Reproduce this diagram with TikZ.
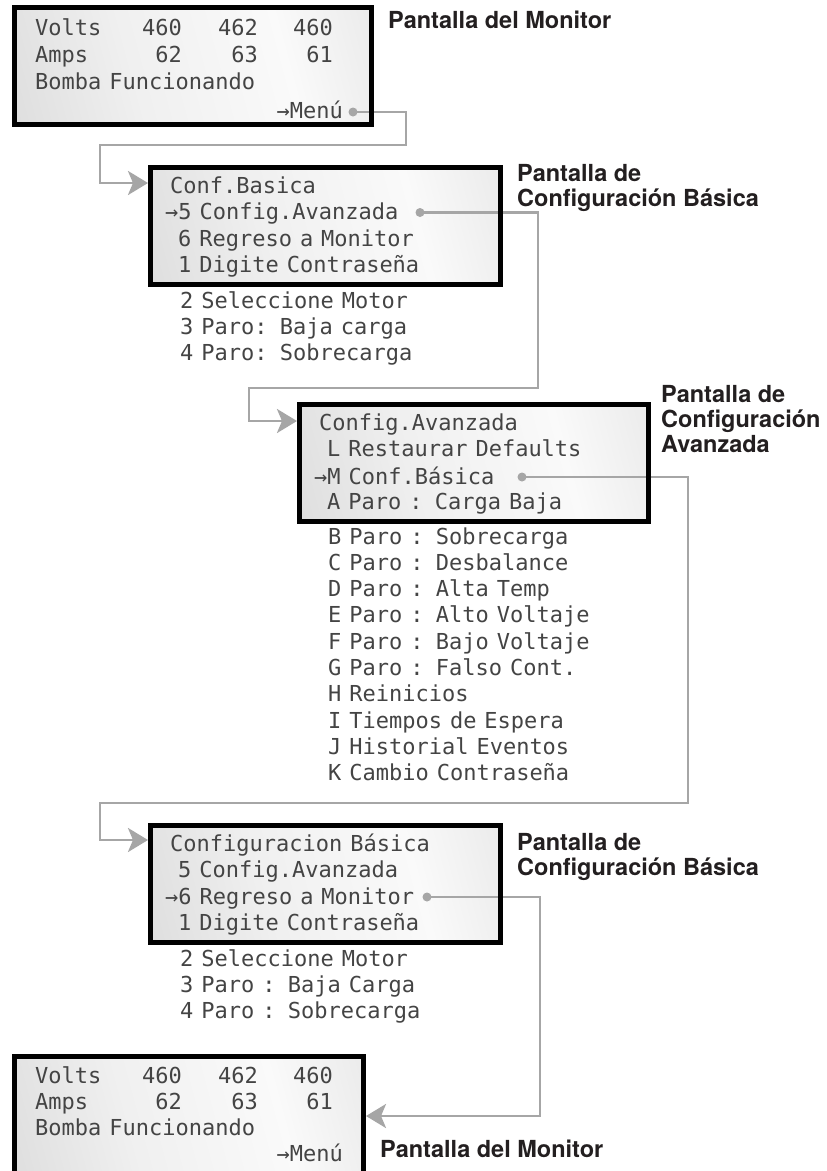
\documentclass[tikz,border=0pt]{standalone}
\usepackage{fontspec}
\newfontfamily\lcdfont[WordSpace=0.6]{DejaVu Sans Mono}
\newfontfamily\lblfont{TeX Gyre Heros}
\usetikzlibrary{arrows.meta}
\definecolor{lcdtext}{HTML}{444444}
\definecolor{connc}{HTML}{A6A6A6}
\definecolor{lbltext}{HTML}{231F20}
\pgfdeclarehorizontalshading{lcdshade}{100bp}{color(0bp)=(black!19); color(40bp)=(black!6); color(65bp)=(black!2); color(100bp)=(black!15)}
\tikzset{
  screen/.style={shading=lcdshade, shading angle=15, anchor=north west, inner sep=0pt, outer sep=2.5pt},
  frame/.style={draw=black, line width=5pt},
  lcd/.style={font=\lcdfont\fontsize{22}{22}\selectfont, text=lcdtext, inner sep=0pt, anchor=base west},
  lcdr/.style={lcd, anchor=base east},
  lbl/.style={font=\lblfont\bfseries\fontsize{23.5}{25}\selectfont, text=lbltext, inner sep=0pt, anchor=base west},
  conn/.style={draw=connc, line width=2.8pt},
  connarrow/.style={conn, -{Stealth[length=20pt, width=24pt, inset=5pt]}},
  knob/.style={fill=connc}
}
\begin{document}
\begin{tikzpicture}[x=1pt,y=-1pt]
\clip (0,0) rectangle (827,1171);
\fill[white] (0,0) rectangle (827,1171);

% screens (fill)
\node[screen, minimum width=357pt, minimum height=117pt] (b1) at (12,5) {};
\node[screen, minimum width=350pt, minimum height=117pt] (b2) at (148,165) {};
\node[screen, minimum width=349pt, minimum height=117pt] (b3) at (297,402) {};
\node[screen, minimum width=350pt, minimum height=117pt] (b4) at (148,823) {};
\node[screen, minimum width=349pt, minimum height=125pt] (b5) at (12,1054) {};

% connector anchors
\coordinate (d1) at (353,112);
\coordinate (d2) at (420,212.5);
\coordinate (d3) at (522,477);
\coordinate (d4) at (427,897);
\coordinate (e1) at (100,183);
\coordinate (e2) at (249,421);
\coordinate (e3) at (100,840);
\coordinate (e4) at (540,1116);

% connectors
\draw[connarrow] (d1) -| (406,145) -| (e1) -- (e1 -| b2.west);
\draw[connarrow] (d2) -| (538,388) -| (e2) -- (e2 -| b3.west);
\draw[connarrow] (d3) -| (688,803) -| (e3) -- (e3 -| b4.west);
\draw[connarrow] (d4) -| (e4) -- (e4 -| b5.east);

% frames
\foreach \b in {b1,b2,b3,b4,b5}{
  \draw[frame] ([shift={(2.5,2.5)}]\b.north west) rectangle ([shift={(-2.5,-2.5)}]\b.south east);
}

% dots
\foreach \d in {d1,d2,d3,d4}{ \fill[knob] (\d) circle (4.5pt); }

% screen 1
\node[lcd] (t1a) at (35,35) {Volts};
\node[lcdr] (t1b) at (182,35) {460};
\node[lcdr] (t1c) at (258,35) {462};
\node[lcdr] (t1d) at (333,35) {460};
\node[lcd] (t1e) at (35,62) {Amps};
\node[lcdr] (t1f) at (182,62) {62};
\node[lcdr] (t1g) at (258,62) {63};
\node[lcdr] (t1h) at (333,62) {61};
\node[lcd] (t1i) at (35,89) {Bomba Funcionando};
\node[lcdr] (t1j) at (343,118) {→Menú};

% screen 2
\node[lcd] (t2a) at (170,193) {Conf.Basica};
\node[lcd] (t2b) at (165,219.5) {→5 Config.Avanzada};
\node[lcd] (t2c) at (178,246) {6 Regreso a Monitor};
\node[lcd] (t2d) at (178,272) {1 Digite Contraseña};
\node[lcd] (t2e) at (180,308) {2 Seleccione Motor};
\node[lcd] (t2f) at (180,334) {3 Paro: Baja carga};
\node[lcd] (t2g) at (180,360) {4 Paro: Sobrecarga};

% screen 3
\node[lcd] (t3a) at (319,430) {Config.Avanzada};
\node[lcd] (t3b) at (327,456) {L Restaurar Defaults};
\node[lcd] (t3c) at (314,484) {→M Conf.Básica};
\node[lcd] (t3d) at (327,509) {A Paro : Carga Baja};
\node[lcd] (t3e) at (328,544) {B Paro : Sobrecarga};
\node[lcd] (t3f) at (328,570.3) {C Paro : Desbalance};
\node[lcd] (t3g) at (328,596.6) {D Paro : Alta Temp};
\node[lcd] (t3h) at (328,622.9) {E Paro : Alto Voltaje};
\node[lcd] (t3i) at (328,649.2) {F Paro : Bajo Voltaje};
\node[lcd] (t3j) at (328,675.5) {G Paro : Falso Cont.};
\node[lcd] (t3k) at (328,701.8) {H Reinicios};
\node[lcd] (t3l) at (328,728.1) {I Tiempos de Espera};
\node[lcd] (t3m) at (328,754.4) {J Historial Eventos};
\node[lcd] (t3n) at (328,780.7) {K Cambio Contraseña};

% screen 4
\node[lcd] (t4a) at (170,851) {Configuracion Básica};
\node[lcd] (t4b) at (178,877.5) {5 Config.Avanzada};
\node[lcd] (t4c) at (165,904) {→6 Regreso a Monitor};
\node[lcd] (t4d) at (178,930) {1 Digite Contraseña};
\node[lcd] (t4e) at (180,966) {2 Seleccione Motor};
\node[lcd] (t4f) at (180,992) {3 Paro : Baja Carga};
\node[lcd] (t4g) at (180,1018) {4 Paro : Sobrecarga};

% screen 5
\node[lcd] (t5a) at (35,1083) {Volts};
\node[lcdr] (t5b) at (182,1083) {460};
\node[lcdr] (t5c) at (258,1083) {462};
\node[lcdr] (t5d) at (333,1083) {460};
\node[lcd] (t5e) at (35,1109) {Amps};
\node[lcdr] (t5f) at (182,1109) {62};
\node[lcdr] (t5g) at (258,1109) {63};
\node[lcdr] (t5h) at (333,1109) {61};
\node[lcd] (t5i) at (35,1135) {Bomba Funcionando};
\node[lcdr] (t5j) at (343,1161) {→Menú};

% labels
\node[lbl] (l1) at (388,28) {Pantalla del Monitor};
\node[lbl] (l2a) at (517,181) {Pantalla de};
\node[lbl] (l2b) at (517,206) {Configuración Básica};
\node[lbl] (l3a) at (661,402) {Pantalla de};
\node[lbl] (l3b) at (661,427) {Configuración};
\node[lbl] (l3c) at (661,452) {Avanzada};
\node[lbl] (l4a) at (517,850) {Pantalla de};
\node[lbl] (l4b) at (517,875) {Configuración Básica};
\node[lbl] (l5) at (380,1157) {Pantalla del Monitor};
\end{tikzpicture}
\end{document}
